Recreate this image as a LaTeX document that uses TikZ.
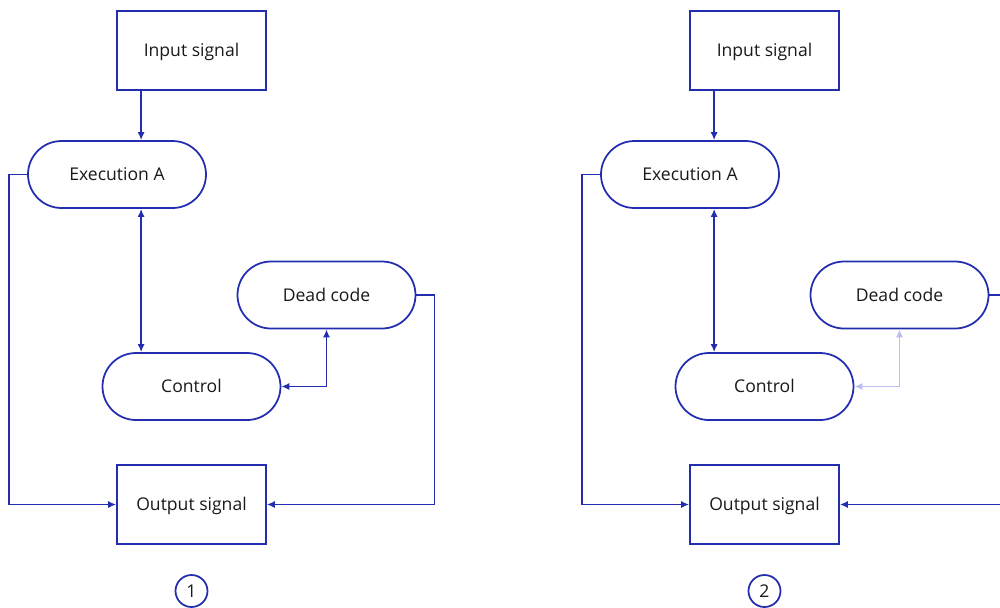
\documentclass[tikz,border=0pt]{standalone}
\usepackage{fontspec}
\setmainfont{Open Sans}
\usetikzlibrary{arrows.meta,positioning}
\definecolor{lineblue}{RGB}{35,45,175}
\definecolor{paleblue}{RGB}{185,190,238}
\definecolor{txtgray}{RGB}{25,25,25}

\tikzset{
  sig/.style={draw=lineblue, line width=1pt, minimum width=2.98cm, minimum height=1.58cm,
    inner sep=0pt, text height=0.714em, text depth=0pt, text=txtgray, font=\fontsize{10}{12}\selectfont},
  proc/.style={sig, rounded corners=0.67cm, minimum width=3.56cm, minimum height=1.34cm},
  tag/.style={draw=lineblue, line width=1pt, circle, minimum size=0.64cm, inner sep=0pt,
    text=txtgray, font=\fontsize{10}{12}\selectfont},
  link/.style={draw=lineblue, line width=1pt},
  ghost/.style={draw=paleblue, line width=1pt},
}

\begin{document}
\begin{tikzpicture}[on grid, >={Latex[length=4.5pt,width=4pt]}]
   \useasboundingbox (0,0) rectangle (20,-12.14);
   \clip (0,0) rectangle (20,-12.14);
   % diagram 1
   \node[sig] (in1) at (3.83,-1.01) {Input signal};
   \node[proc] (exa1) [below left=2.48cm and 1.49cm of in1] {Execution A};
   \node[proc] (ctl1) [below right=4.24cm and 1.49cm of exa1] {Control};
   \node[proc] (dead1) [above right=1.83cm and 2.70cm of ctl1] {Dead code};
   \node[sig] (out1) [below=2.36cm of ctl1] {Output signal};
   \node[tag] (num1) [below=1.73cm of out1] {1};
   \coordinate (a1) at ([xshift=0.5cm]in1.south west);
   \draw[link,->] (a1) -- (a1 |- exa1.north);
   \draw[link,<->] (a1 |- exa1.south) -- (a1 |- ctl1.north);
   \draw[link,<->] (dead1.south) |- (ctl1.east);
   \draw[link,->] (exa1.west) -- ++(-0.36,0) |- (out1.west);
   \draw[link,->] (dead1.east) -- ++(0.36,0) |- (out1.east);
   % diagram 2
   \node[sig] (in2) [right=11.46cm of in1] {Input signal};
   \node[proc] (exa2) [below left=2.48cm and 1.49cm of in2] {Execution A};
   \node[proc] (ctl2) [below right=4.24cm and 1.49cm of exa2] {Control};
   \node[proc] (dead2) [above right=1.83cm and 2.70cm of ctl2] {Dead code};
   \node[sig] (out2) [below=2.36cm of ctl2] {Output signal};
   \node[tag] (num2) [below=1.73cm of out2] {2};
   \coordinate (a2) at ([xshift=0.5cm]in2.south west);
   \draw[link,->] (a2) -- (a2 |- exa2.north);
   \draw[link,<->] (a2 |- exa2.south) -- (a2 |- ctl2.north);
   \draw[ghost,<->] (dead2.south) |- (ctl2.east);
   \draw[link,->] (exa2.west) -- ++(-0.36,0) |- (out2.west);
   \draw[link,->] (dead2.east) -- ++(0.36,0) |- (out2.east);
\end{tikzpicture}
\end{document}
